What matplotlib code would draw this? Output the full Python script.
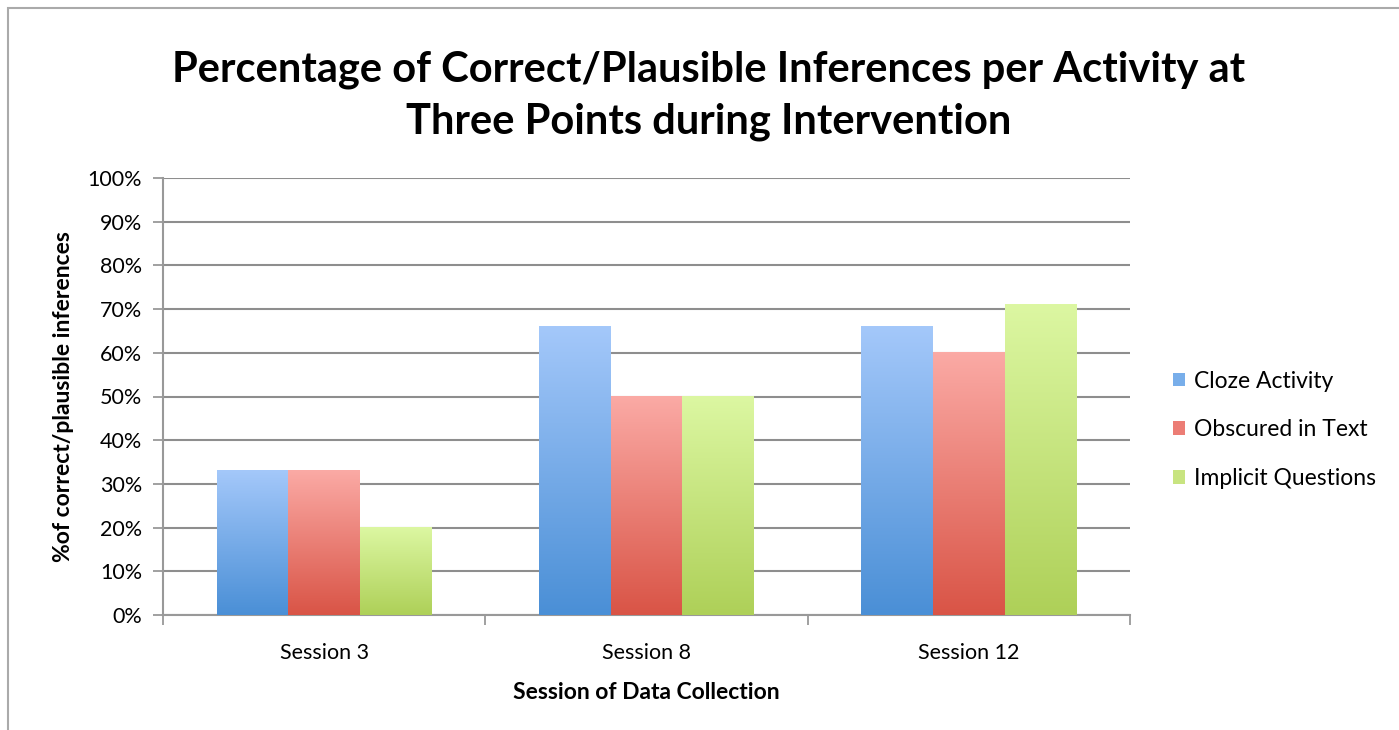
import matplotlib.pyplot as plt
import numpy as np
from matplotlib.colors import LinearSegmentedColormap
from matplotlib.patches import Rectangle, Patch

sessions = ['Session 3', 'Session 8', 'Session 12']
series = ['Cloze Activity', 'Obscured in Text', 'Implicit Questions']
cloze = [33, 66, 66]
obscured = [33, 50, 60]
implicit = [20, 50, 71]
yticks = list(range(0, 101, 10))

# (top colour, bottom colour) for each series gradient
grads = [('#a4c8fa', '#4a8fd6'), ('#fbaaa5', '#d95446'), ('#dcf7a2', '#aed058')]
mids = ['#78aeea', '#ec7d75', '#c8e480']

plt.rcParams['font.family'] = ['Lato', 'DejaVu Sans']

fig = plt.figure(figsize=(13.99, 7.3), dpi=100)
ax = fig.add_axes([163/1399, 1 - 615/730, (1130-163)/1399, (615-178)/730])

x = np.arange(len(sessions))
w = 0.222
values = [cloze, obscured, implicit]
for i, vals in enumerate(values):
    bars = ax.bar(x + (i - 1) * w, vals, w, color='none', zorder=3)
    cmap = LinearSegmentedColormap.from_list('g%d' % i, [grads[i][1], grads[i][0]])
    grad = np.linspace(0, 1, 256).reshape(-1, 1)
    for b in bars:
        bx, bw, bh = b.get_x(), b.get_width(), b.get_height()
        ax.imshow(grad, cmap=cmap, origin='lower', aspect='auto',
                  extent=[bx, bx + bw, 0, bh], zorder=3)

ax.set_xlim(-0.5, 2.5)
ax.set_ylim(0, 100)
ax.set_yticks(yticks)
ax.set_yticklabels([f'{t}%' for t in yticks], fontsize=15.5)
ax.set_xticks(x)
ax.set_xticklabels(sessions, fontsize=15.5)
ax.set_xticks([-0.5, 0.5, 1.5, 2.5], minor=True)
ax.tick_params(axis='x', which='major', length=0, pad=20)
ax.tick_params(axis='x', which='minor', length=7, color='#999999', width=1.3)
ax.tick_params(axis='y', length=7, color='#999999', width=1.3, pad=8)
ax.yaxis.grid(True, color='#8e8e8e', linewidth=1.5, zorder=0)
ax.set_axisbelow(True)
for s in ['top', 'right']:
    ax.spines[s].set_visible(False)
for s in ['left', 'bottom']:
    ax.spines[s].set_color('#999999')
    ax.spines[s].set_linewidth(1.5)

ax.set_ylabel('%of correct/plausible inferences', fontsize=16.5, fontweight='bold', labelpad=10)
ax.set_xlabel('Session of Data Collection', fontsize=16.5, fontweight='bold', labelpad=14)

fig.text(0.5065, 1 - 96/730,
         'Percentage of Correct/Plausible Inferences per Activity at\nThree Points during Intervention',
         ha='center', va='center', fontsize=30, fontweight='bold', linespacing=1.45)

handles = [Patch(facecolor=c, edgecolor='none') for c in mids]
fig.legend(handles, series, loc='center left', bbox_to_anchor=(1152/1399, 1 - 430/730),
           frameon=False, fontsize=16.5, handlelength=0.55, handleheight=0.55,
           handletextpad=0.4, labelspacing=1.22)

fig.patches.append(Rectangle((8/1399, -0.1), 1.2, 1 - 8/730 + 0.1, transform=fig.transFigure,
                             fill=False, edgecolor='#aaaaaa', linewidth=1.5))

fig.savefig('out.png', dpi=100)
